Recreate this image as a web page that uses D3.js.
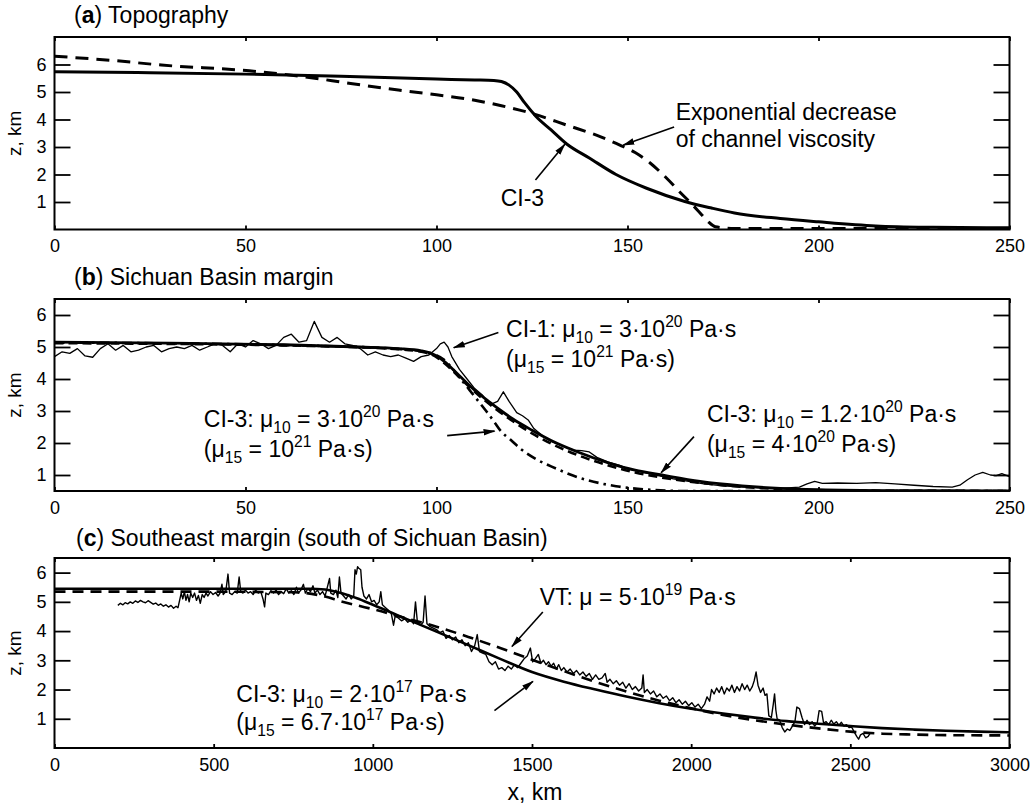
<!DOCTYPE html>
<html><head><meta charset="utf-8">
<script src="https://cdn.jsdelivr.net/npm/d3@7"></script>
<style>
body{margin:0;background:#fff}
text{font-family:"Liberation Sans",Arial,Helvetica,sans-serif;fill:#000}
</style>
</head><body>
<svg id="chart" width="1032" height="812"></svg>
<script>
// ---------------- DATA ----------------
const xTicksAB = [0, 50, 100, 150, 200, 250];
const xTicksC = [0, 500, 1000, 1500, 2000, 2500, 3000];
const yTicks = [1, 2, 3, 4, 5, 6];

// (a) Topography: [x km, z km]
const topoCI3 = [[0,5.74],[25,5.7],[50,5.65],[75,5.57],[100,5.47],[110,5.44],[115,5.42],[117,5.38],[119,5.25],[121,5.0],[123,4.62],[126,4.12],[130,3.62],[134,3.12],[140,2.6],[147,2.0],[155,1.5],[165,1.02],[172,0.78],[178,0.6],[190,0.4],[200,0.28],[215,0.13],[230,0.08],[250,0.06]];
const topoExp = [[0,6.3],[15,6.15],[28,5.98],[51,5.77],[64,5.58],[78,5.3],[90,5.07],[100,4.9],[110,4.7],[117,4.5],[125,4.22],[134,3.8],[143,3.37],[148,3.07],[152,2.8],[156,2.41],[160,1.9],[164,1.32],[167,0.9],[169,0.6],[171,0.3],[173,0.1],[178,0.04],[250,0.04]];

// (b) Sichuan Basin margin
const sichuanObs = [[0,4.7],[2,4.85],[4,4.8],[6,4.95],[8,4.72],[10,4.68],[12,4.95],[14,5.1],[16,4.9],[18,5.05],[20,4.85],[22,4.9],[24,5.0],[26,5.05],[28,4.85],[30,4.95],[32,5.0],[34,4.95],[36,5.05],[38,4.9],[40,5.0],[42,5.1],[44,5.05],[46,4.85],[48,5.1],[50,5.0],[52,5.2],[54,5.1],[56,4.95],[58,5.05],[60,5.3],[62,5.4],[64,5.15],[66,5.2],[68,5.8],[70,5.3],[72,5.15],[74,5.3],[76,5.1],[78,5.05],[80,4.95],[82,4.75],[84,4.85],[86,4.75],[88,4.7],[90,4.75],[92,4.65],[94,4.55],[96,4.7],[98,4.75],[100,4.95],[101,5.1],[102,5.15],[103,5.0],[104,4.7],[106,4.3],[108,4.0],[110,3.7],[112,3.5],[114,3.2],[116,3.3],[117.5,3.6],[119,3.3],[121,2.95],[122.5,2.85],[124,2.72],[125.5,2.45],[128,2.2],[130,2.05],[133,1.9],[136,1.78],[138,1.76],[140,1.72],[142,1.55],[145,1.4],[148,1.3],[150,1.2],[154,1.08],[158,0.98],[162,0.88],[166,0.8],[170,0.72],[175,0.66],[180,0.62],[185,0.6],[190,0.58],[195,0.62],[197,0.72],[199,0.8],[201,0.74],[205,0.75],[210,0.74],[215,0.76],[220,0.72],[225,0.68],[230,0.64],[235,0.62],[237,0.68],[239,0.85],[241,1.0],[243,1.08],[245,1.0],[246.5,0.98],[248,1.04],[250,0.95]];
const sichuanCI1 = [[0,5.15],[30,5.12],[60,5.07],[80,5.0],[90,4.95],[96,4.88],[99,4.78],[102,4.55],[106,4.1],[110,3.65],[114,3.27],[117,3.0],[120,2.75],[125,2.4],[130,2.08],[137,1.72],[145,1.38],[152,1.15],[159,1.0],[169,0.8],[180,0.66],[190,0.58],[200,0.54],[220,0.51],[250,0.5]];
const sichuanCI3Low = [[0,5.12],[60,5.05],[90,4.93],[98,4.8],[102,4.5],[106,4.05],[110,3.6],[114,3.2],[120,2.68],[125,2.3],[130,1.98],[137,1.62],[145,1.3],[152,1.08],[160,0.9],[170,0.74],[180,0.63],[190,0.56],[200,0.52],[250,0.5]];
const sichuanCI3High = [[0,5.14],[60,5.06],[90,4.94],[98,4.82],[102,4.6],[106,4.05],[110,3.45],[113,3.0],[115,2.68],[117,2.35],[119.4,2.1],[122,1.82],[126,1.5],[130,1.27],[137,0.93],[147,0.65],[156,0.54],[165,0.5],[250,0.5]];

// (c) Southeast margin
const seObs = [[199,4.88],[207,4.95],[215,4.9],[222,4.97],[230,4.93],[238,5.0],[246,4.95],[254,5.03],[262,4.98],[270,5.05],[278,5.0],[286,4.97],[294,5.04],[302,4.98],[310,4.92],[318,4.96],[326,4.88],[334,4.93],[342,4.85],[350,4.9],[358,4.82],[366,4.88],[374,4.78],[382,4.85],[388,4.8],[393,5.05],[398,5.3],[403,5.1],[408,5.35],[413,5.05],[418,5.25],[423,5.0],[428,5.3],[434,5.15],[440,5.3],[446,5.05],[452,5.22],[458,4.95],[464,5.25],[470,5.15],[476,5.3],[482,5.2],[490,5.35],[498,5.25],[506,5.32],[514,5.2],[520,5.3],[526,5.6],[530,5.25],[538,5.35],[545,5.95],[550,5.3],[558,5.25],[566,5.35],[574,5.3],[580,5.85],[585,5.35],[592,5.3],[600,5.4],[608,5.3],[616,5.35],[624,5.25],[632,5.4],[640,5.3],[648,5.35],[655,5.1],[660,4.83],[664,5.3],[672,5.25],[680,5.38],[688,5.3],[696,5.4],[704,5.25],[712,5.35],[720,5.28],[728,5.45],[736,5.3],[744,5.38],[752,5.25],[760,5.5],[766,5.3],[774,5.4],[782,5.6],[788,5.3],[796,5.45],[804,5.35],[812,5.55],[818,5.3],[826,5.4],[834,5.25],[842,5.35],[850,5.2],[856,5.45],[864,5.8],[868,5.3],[876,5.25],[884,5.4],[890,5.15],[895,5.85],[900,5.3],[908,5.2],[916,5.1],[924,5.25],[932,5.1],[940,5.2],[944,6.1],[948,5.95],[952,6.2],[956,6.15],[962,6.1],[966,5.5],[972,5.2],[980,5.1],[988,5.25],[996,5.0],[1004,5.05],[1012,4.9],[1020,5.0],[1025,5.35],[1030,4.9],[1040,4.8],[1050,4.7],[1058,4.6],[1065,4.2],[1070,4.5],[1080,4.45],[1090,4.35],[1100,4.42],[1110,4.3],[1120,4.38],[1128,4.25],[1134,5.0],[1140,4.3],[1150,4.2],[1158,4.3],[1164,5.2],[1170,4.25],[1180,4.15],[1190,4.1],[1200,4.05],[1210,3.95],[1220,4.0],[1230,3.75],[1240,3.85],[1250,3.7],[1260,3.8],[1270,3.6],[1280,3.7],[1290,3.5],[1300,3.6],[1310,3.3],[1320,3.5],[1328,3.88],[1335,3.3],[1345,3.25],[1355,3.2],[1365,2.95],[1375,2.85],[1385,2.95],[1395,2.7],[1405,2.75],[1415,2.65],[1425,2.8],[1435,2.7],[1445,2.85],[1455,2.75],[1465,2.9],[1475,3.05],[1485,3.15],[1495,3.42],[1502,2.95],[1510,3.05],[1520,3.2],[1528,2.9],[1536,3.0],[1544,2.85],[1552,2.95],[1560,2.8],[1568,2.9],[1576,2.7],[1584,2.85],[1592,2.65],[1600,2.75],[1610,2.6],[1620,2.7],[1630,2.55],[1640,2.65],[1650,2.5],[1660,2.6],[1670,2.45],[1680,2.55],[1690,2.35],[1700,2.5],[1710,2.35],[1720,2.4],[1730,2.55],[1736,2.25],[1745,2.35],[1755,2.2],[1765,2.3],[1775,2.15],[1785,2.25],[1795,2.05],[1805,2.2],[1815,2.0],[1825,2.1],[1835,1.95],[1845,2.05],[1849,2.5],[1853,1.9],[1862,2.0],[1872,1.85],[1882,1.95],[1892,1.75],[1902,1.85],[1912,1.7],[1922,1.78],[1932,1.62],[1942,1.72],[1952,1.55],[1962,1.65],[1972,1.5],[1982,1.6],[1992,1.45],[2002,1.55],[2012,1.4],[2022,1.5],[2032,1.35],[2042,1.5],[2050,1.75],[2058,1.6],[2064,2.0],[2072,1.85],[2080,2.05],[2088,1.9],[2096,2.1],[2104,1.85],[2112,2.05],[2120,1.95],[2128,2.15],[2136,1.9],[2144,2.1],[2152,1.95],[2160,2.2],[2168,2.0],[2176,2.15],[2184,1.95],[2192,2.1],[2198,2.3],[2204,2.6],[2210,2.15],[2218,1.9],[2226,2.05],[2232,1.8],[2238,1.85],[2244,1.1],[2252,1.05],[2258,1.5],[2262,1.85],[2266,1.3],[2270,1.0],[2278,0.95],[2286,0.7],[2294,0.55],[2302,0.65],[2310,0.6],[2318,0.75],[2326,0.9],[2332,1.4],[2340,1.35],[2348,1.05],[2356,0.8],[2364,0.95],[2372,0.8],[2380,0.9],[2388,0.75],[2396,0.85],[2402,1.28],[2410,1.25],[2416,0.85],[2424,0.9],[2432,0.8],[2440,0.95],[2448,0.82],[2456,0.9],[2464,0.78],[2472,0.88],[2480,0.75],[2488,0.8],[2496,0.7],[2504,0.72],[2512,0.55],[2520,0.4],[2526,0.3],[2532,0.45],[2540,0.5],[2548,0.35],[2556,0.4],[2562,0.5]];
const seCI3 = [[0,5.45],[400,5.45],[800,5.45],[850,5.42],[900,5.3],[950,5.12],[1000,4.9],[1100,4.44],[1200,3.98],[1300,3.52],[1400,3.05],[1500,2.6],[1600,2.27],[1700,2.0],[1800,1.75],[1900,1.53],[2000,1.34],[2100,1.18],[2200,1.04],[2300,0.92],[2400,0.83],[2500,0.75],[2600,0.68],[2700,0.63],[2800,0.59],[2900,0.56],[3000,0.54]];
const seVT = [[0,5.35],[400,5.35],[750,5.33],[850,5.18],[900,5.02],[950,4.88],[1000,4.75],[1100,4.45],[1200,4.15],[1300,3.8],[1400,3.42],[1500,3.02],[1600,2.63],[1700,2.26],[1800,1.92],[1900,1.62],[2000,1.36],[2100,1.13],[2200,0.95],[2300,0.8],[2400,0.67],[2500,0.56],[2600,0.49],[2700,0.46],[2800,0.44],[3000,0.43]];

// annotation texts (segments: [text, "sub"|"sup"|undefined])
const txtExp1 = [["Exponential decrease"]];
const txtExp2 = [["of channel viscosity"]];
const txtCI3a = [["CI-3"]];
const txtCI1 = [["CI-1: \u03bc"],["10","sub"],[" = 3\u00b710"],["20","sup"],[" Pa\u00b7s"]];
const txtCI1b = [["(\u03bc"],["15","sub"],[" = 10"],["21","sup"],[" Pa\u00b7s)"]];
const txtCI3hi = [["CI-3: \u03bc"],["10","sub"],[" = 3\u00b710"],["20","sup"],[" Pa\u00b7s"]];
const txtCI3hib = [["(\u03bc"],["15","sub"],[" = 10"],["21","sup"],[" Pa\u00b7s)"]];
const txtCI3lo = [["CI-3: \u03bc"],["10","sub"],[" = 1.2\u00b710"],["20","sup"],[" Pa\u00b7s"]];
const txtCI3lob = [["(\u03bc"],["15","sub"],[" = 4\u00b710"],["20","sup"],[" Pa\u00b7s)"]];
const txtVT = [["VT: \u03bc = 5\u00b710"],["19","sup"],[" Pa\u00b7s"]];
const txtCI3c = [["CI-3: \u03bc"],["10","sub"],[" = 2\u00b710"],["17","sup"],[" Pa\u00b7s"]];
const txtCI3cb = [["(\u03bc"],["15","sub"],[" = 6.7\u00b710"],["17","sup"],[" Pa\u00b7s)"]];

// ---------------- DRAW ----------------
const svg = d3.select("#chart");
const defs = svg.append("defs");
defs.append("marker").attr("id","ah").attr("viewBox","0 0 12 8").attr("refX",11).attr("refY",4)
  .attr("markerWidth",12).attr("markerHeight",8).attr("markerUnits","userSpaceOnUse").attr("orient","auto")
  .append("path").attr("d","M0,0.8 L12,4 L0,7.2 Z").attr("fill","#000");

const L = 54.5, R = 1009.5;
function makePanel(id, top, bottom, xDom, yDom, xTicks) {
  const x = d3.scaleLinear().domain(xDom).range([L, R]);
  const y = d3.scaleLinear().domain(yDom).range([bottom, top]);
  const g = svg.append("g");
  defs.append("clipPath").attr("id","clip"+id).append("rect")
    .attr("x",L).attr("y",top).attr("width",R-L).attr("height",bottom-top);
  const gl = g.append("g").attr("transform",`translate(${L},0)`)
    .call(d3.axisLeft(y).tickValues(yTicks).tickSizeInner(-16).tickSizeOuter(0).tickPadding(8).tickFormat(d3.format("d")));
  const gr = g.append("g").attr("transform",`translate(${R},0)`)
    .call(d3.axisRight(y).tickValues(yTicks).tickSizeInner(-16).tickSizeOuter(0).tickFormat(""));
  const gb = g.append("g").attr("transform",`translate(0,${bottom})`)
    .call(d3.axisBottom(x).tickValues(xTicks).tickSizeInner(-4).tickSizeOuter(0).tickPadding(10).tickFormat(d3.format("d")));
  const gt = g.append("g").attr("transform",`translate(0,${top})`)
    .call(d3.axisTop(x).tickValues(xTicks).tickSizeInner(-4).tickSizeOuter(0).tickFormat(""));
  [gl,gr,gb,gt].forEach(a => {
    a.select(".domain").remove();
    a.selectAll("line").attr("stroke","#000").attr("stroke-width",1.8);
    a.selectAll("text").attr("font-size",18).attr("fill","#000")
      .style("font-family",'"Liberation Sans",Arial,sans-serif');
  });
  g.append("rect").attr("x",L).attr("y",top).attr("width",R-L).attr("height",bottom-top)
    .attr("fill","none").attr("stroke","#000").attr("stroke-width",2);
  g.append("text").attr("transform",`translate(21,${(top+bottom)/2}) rotate(-90)`)
    .attr("text-anchor","middle").attr("font-size",19).text("z, km");
  const lines = svg.append("g").attr("clip-path",`url(#clip${id})`);
  return {x, y, g, lines};
}

function drawLine(p, data, w, dash, curve) {
  p.lines.append("path").datum(data)
    .attr("d", d3.line().x(d => p.x(d[0])).y(d => p.y(d[1])).curve(curve || d3.curveLinear))
    .attr("fill","none").attr("stroke","#000").attr("stroke-width",w)
    .attr("stroke-dasharray",dash || null).attr("stroke-linejoin","round");
}

// rows: [[segs, xv, yv], ...] drawn as one text element
function richText(p, rows, size) {
  const t = svg.append("text").attr("font-size",size);
  rows.forEach(([segs, xv, yv]) => {
    let shift = 0;
    segs.forEach((s, i) => {
      const ts = t.append("tspan").text(s[0]);
      if (i === 0) ts.attr("x", p.x(xv)).attr("y", p.y(yv));
      let target = 0;
      if (s[1] === "sub") { target = 6; ts.attr("font-size", size*0.68); }
      else if (s[1] === "sup") { target = -10; ts.attr("font-size", size*0.68); }
      if (target !== shift) {
        if (i === 0) ts.attr("y", p.y(yv) + target); else ts.attr("dy", target - shift);
        shift = target;
      }
    });
  });
  return t;
}

function arrow(p, x1, y1, x2, y2) {
  svg.append("line").attr("x1",p.x(x1)).attr("y1",p.y(y1)).attr("x2",p.x(x2)).attr("y2",p.y(y2))
    .attr("stroke","#000").attr("stroke-width",1.6).attr("marker-end","url(#ah)");
}

function title(x, y, letter, rest) {
  const t = svg.append("text").attr("x",x).attr("y",y).attr("font-size",23);
  t.append("tspan").text("(");
  t.append("tspan").attr("font-weight","bold").text(letter);
  t.append("tspan").text(") " + rest);
}

// Panel a
const pa = makePanel("a", 37, 229.5, [0,250], [0,7], xTicksAB);
drawLine(pa, topoExp, 3, "13,8", d3.curveMonotoneX);
drawLine(pa, topoCI3, 3, null, d3.curveMonotoneX);
title(74, 23, "a", "Topography");
richText(pa, [[txtExp1, 162.6, 3.98]], 23);
richText(pa, [[txtExp2, 162.6, 3.0]], 23);
arrow(pa, 162.2, 3.73, 148.9, 3.07);
richText(pa, [[txtCI3a, 116.8, 0.85]], 23);
arrow(pa, 125.9, 1.8, 133.6, 3.1);

// Panel b
const pb = makePanel("b", 299, 491, [0,250], [0.5,6.5], xTicksAB);
drawLine(pb, sichuanObs, 1.3, null, d3.curveLinear);
drawLine(pb, sichuanCI3High, 2.6, "10,5,2.5,5", d3.curveMonotoneX);
drawLine(pb, sichuanCI3Low, 2.6, "9,5", d3.curveMonotoneX);
drawLine(pb, sichuanCI1, 2.8, null, d3.curveMonotoneX);
title(74, 285, "b", "Sichuan Basin margin");
richText(pb, [[txtCI1, 118.2, 5.32], [txtCI1b, 118.2, 4.38]], 23);
arrow(pb, 116.2, 5.45, 104.5, 4.98);
richText(pb, [[txtCI3hi, 39.1, 2.51], [txtCI3hib, 39.1, 1.57]], 23);
arrow(pb, 102.8, 2.23, 115.2, 2.37);
richText(pb, [[txtCI3lo, 170.8, 2.67], [txtCI3lob, 170.8, 1.73]], 23);
arrow(pb, 167.4, 2.2, 158.8, 1.07);

// Panel c
const pc = makePanel("c", 558, 748, [0,3000], [0,6.5], xTicksC);
drawLine(pc, seObs, 1.4, null, d3.curveLinear);
drawLine(pc, seVT, 2.6, "11,7", d3.curveMonotoneX);
drawLine(pc, seCI3, 2.6, null, d3.curveMonotoneX);
title(76, 546, "c", "Southeast margin (south of Sichuan Basin)");
richText(pc, [[txtVT, 1524, 4.88]], 23);
arrow(pc, 1534, 4.65, 1437, 3.47);
richText(pc, [[txtCI3c, 571, 1.57], [txtCI3cb, 571, 0.6]], 23);
arrow(pc, 1382, 1.28, 1503, 2.28);

svg.append("text").attr("x",535).attr("y",800).attr("text-anchor","middle").attr("font-size",23).text("x, km");
</script>
</body></html>
